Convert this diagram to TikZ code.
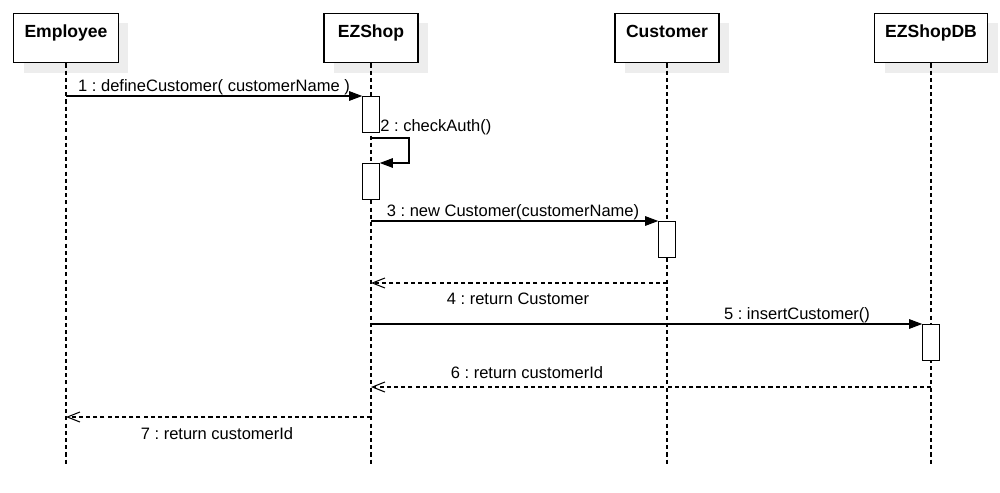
\documentclass[tikz,border=0pt]{standalone}
\usepackage{fontspec}
\setmainfont{Liberation Sans}
\frenchspacing
\usetikzlibrary{arrows.meta,positioning,shadows,calc}
\tikzset{
	actor/.style={rectangle, draw, fill=white, line width=0.6pt, font=\bfseries,
		inner xsep=0pt, inner ysep=0pt, text height=14.2pt, text depth=14.2pt,
		drop shadow={shadow xshift=0.2cm, shadow yshift=-0.2cm, fill=black!7, opacity=1}},
	lifeline/.style={line width=0.6pt, dash pattern=on 2.3pt off 1.8pt},
	activ/.style={rectangle, draw, fill=white, line width=0.6pt,
		minimum width=0.33cm, minimum height=0.72cm, inner sep=0pt, anchor=north},
	call/.style={line width=0.6pt, -{Triangle[length=0.26cm,width=0.19cm]}},
	reply/.style={line width=0.6pt, dash pattern=on 2.3pt off 1.8pt,
		-{Straight Barb[length=0.25cm,width=0.2cm]}},
	msg/.style={inner sep=0pt, anchor=base}
}

\begin{document}
\begin{tikzpicture}[x=0.02cm, y=-0.02cm, font=\fontsize{9.4pt}{11pt}\selectfont]
	\useasboundingbox (0,0) rectangle (1000,493);

	% lifeline heads
	\node[actor, minimum width=2.1cm] (emp) at (66,38) {Employee};
	\node[actor, minimum width=1.88cm] (ezs) at (371,38) {EZShop};
	\node[actor, minimum width=2.08cm] (cus) at (667,38) {Customer};
	\node[actor, minimum width=2.26cm] (db) at (931,38) {EZShopDB};

	\coordinate (bottom) at (0,465);
	\foreach \who in {emp,ezs,cus,db}
		\draw[lifeline] (\who.south) -- (\who |- bottom);

	% message levels
	\coordinate (m1) at (0,96);
	\coordinate (m2) at (0,138);
	\coordinate (m2b) at (0,163);
	\coordinate (m3) at (0,221);
	\coordinate (m4) at (0,283);
	\coordinate (m5) at (0,324);
	\coordinate (m6) at (0,387);
	\coordinate (m7) at (0,417);

	% activations
	\node[activ] (act1) at (ezs |- m1) {};
	\node[activ] (act2) at (ezs |- m2b) {};
	\node[activ] (act3) at (cus |- m3) {};
	\node[activ] (act5) at (db |- m5) {};

	% messages
	\draw[call] (emp |- m1) -- (act1.north west);
	\node[msg] (l1) at (214,92) {1 : defineCustomer( customerName )};

	\draw[call] (ezs |- m2) -| ++(38,25) -- (act2.north east);
	\node[msg, anchor=base west] (l2) at (380,132) {2 : checkAuth()};

	\draw[call] (ezs |- m3) -- (act3.north west);
	\node[msg] (l3) at (513,216) {3 : new Customer(customerName)};

	\draw[reply] (cus |- m4) -- (ezs |- m4);
	\node[msg] (l4) at (518,304) {4 : return Customer};

	\draw[call] (ezs |- m5) -- (act5.north west);
	\node[msg] (l5) at (797,319) {5 : insertCustomer()};

	\draw[reply] (db |- m6) -- (ezs |- m6);
	\node[msg] (l6) at (527,378) {6 : return customerId};

	\draw[reply] (ezs |- m7) -- (emp |- m7);
	\node[msg] (l7) at (217,439) {7 : return customerId};
\end{tikzpicture}
\end{document}
